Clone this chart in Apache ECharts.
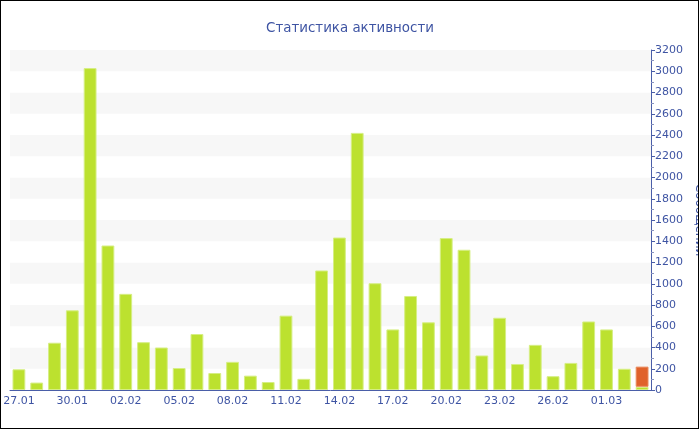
<!DOCTYPE html>
<html><head><meta charset="utf-8">
<script src="https://cdn.jsdelivr.net/npm/echarts@6/dist/echarts.min.js"></script>
<style>
html,body{margin:0;padding:0;background:#fff;}
#wrap{position:absolute;left:0;top:0;width:699px;height:429px;border:1px solid #000;box-sizing:border-box;overflow:hidden;}
#c{position:absolute;left:-1px;top:-1px;width:700px;height:430px;}
</style>
</head><body>
<div id="wrap"><div id="c"></div></div>
<script>
var categories = ['27.01','28.01','29.01','30.01','31.01','01.02','02.02','03.02','04.02','05.02','06.02','07.02','08.02','09.02','10.02','11.02','12.02','13.02','14.02','15.02','16.02','17.02','18.02','19.02','20.02','21.02','22.02','23.02','24.02','25.02','26.02','27.02','28.02','01.03','02.03','03.03'];
var messages = [195,70,445,750,3030,1360,905,450,400,207,527,160,265,135,75,700,105,1125,1435,2420,1005,570,885,637,1430,1320,325,680,245,425,130,255,645,570,200,30];
var today = [null,null,null,null,null,null,null,null,null,null,null,null,null,null,null,null,null,null,null,null,null,null,null,null,null,null,null,null,null,null,null,null,null,null,null,190];
var yTicks = {min:0, max:3200, interval:200};

var blue = '#3e54a3';
var chart = echarts.init(document.getElementById('c'));
chart.setOption({
  animation:false,
  backgroundColor:'#fff',
  title:{text:'Статистика активности',left:'center',top:17,textStyle:{color:blue,fontSize:13.4,fontWeight:'normal',fontFamily:'DejaVu Sans'}},
  grid:{left:10,right:49,top:50,bottom:40,containLabel:false,outerBoundsMode:'none'},
  xAxis:{type:'category',data:categories,
    axisLine:{lineStyle:{color:'#4a5ea8',width:1}},
    axisTick:{interval:2,alignWithLabel:true,length:3,lineStyle:{color:'#999'}},
    axisLabel:{interval:2,color:blue,fontSize:11,fontFamily:'DejaVu Sans',margin:6,hideOverlap:false},
    splitLine:{show:false}},
  yAxis:{type:'value',position:'right',min:yTicks.min,max:yTicks.max,interval:yTicks.interval,
    name:'Сообщений',nameLocation:'middle',nameRotate:-90,nameGap:42,nameMoveOverlap:false,
    nameTextStyle:{color:blue,fontSize:12,fontFamily:'DejaVu Sans'},
    axisLine:{show:true,lineStyle:{color:'#4a5ea8',width:1}},
    axisTick:{show:true,length:4,lineStyle:{color:'#4a5ea8'}},
    minorTick:{show:true,splitNumber:2,length:3,lineStyle:{color:'#8893c0'}},
    axisLabel:{color:blue,fontSize:11,fontFamily:'DejaVu Sans',margin:4,formatter:function(v){return String(v);}},
    splitLine:{show:false},
    splitArea:{show:true,areaStyle:{color:['#ffffff','#f7f7f7']}}},
  series:[
    {name:'Сообщения',type:'bar',stack:'a',data:messages,barCategoryGap:'28%',
      itemStyle:{color:'#bce12f',borderColor:'#d6ee84',borderWidth:1}},
    {name:'Сегодня',type:'bar',stack:'a',data:today,
      itemStyle:{color:'#e0622b',borderColor:'#e98a5c',borderWidth:1}}
  ]
});
</script>
</body></html>
